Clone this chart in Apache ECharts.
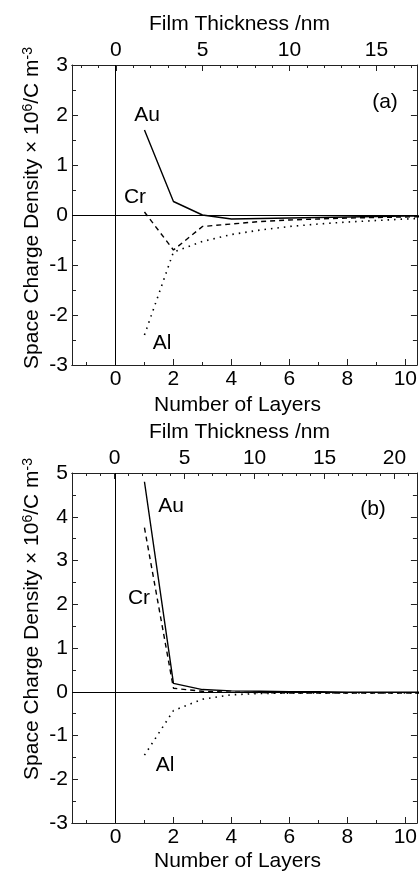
<!DOCTYPE html>
<html>
<head>
<meta charset="utf-8">
<script src="https://cdn.jsdelivr.net/npm/echarts@6/dist/echarts.min.js"></script>
<style>
html, body {margin: 0; padding: 0; background: #fff;}
#box {width: 420px; height: 873px;}
</style>
</head>
<body>
<div id="box"></div>
<script>
// 数据
var layers = [1, 2, 3, 4, 5, 6, 7, 8, 9, 10, 11];
// (a)
var auA = [1.7, 0.27, 0.0, -0.08, -0.07, -0.06, -0.05, -0.04, -0.03, -0.02, -0.02];
var crA = [0.06, -0.7, -0.23, -0.18, -0.13, -0.1, -0.08, -0.06, -0.05, -0.04, -0.03];
var alA = [-2.4, -0.74, -0.53, -0.39, -0.3, -0.23, -0.18, -0.14, -0.11, -0.08, -0.06];
// (b)
var auB = [4.8, 0.19, 0.05, 0.02, 0.01, 0.0, 0.0, -0.01, -0.01, -0.01, -0.01];
var crB = [3.75, 0.08, 0.01, -0.01, -0.02, -0.03, -0.03, -0.03, -0.03, -0.03, -0.03];
var alB = [-1.45, -0.43, -0.17, -0.07, -0.04, -0.03, -0.03, -0.03, -0.03, -0.03, -0.03];

// 刻度
var layerTicks = [0, 2, 4, 6, 8, 10];
var layerMinor = [-1, 1, 3, 5, 7, 9];
var nmTicksA = [0, 5, 10, 15];
var nmMinorA = [-2, -1, 1, 2, 3, 4, 6, 7, 8, 9, 11, 12, 13, 14, 16, 17];
var nmTicksB = [0, 5, 10, 15, 20];
var nmMinorB = [-3, -2, -1, 1, 2, 3, 4, 6, 7, 8, 9, 11, 12, 13, 14, 16, 17, 18, 19, 21];

var FONT = 'Liberation Sans';
var FS = 21;
var axisColor = '#222';

function pairs(xs, ys) {
    return xs.map(function (x, i) { return [x, ys[i]]; });
}

// 一个x轴 (主刻度+标签 或 次刻度)
function xAx(grid, pos, min, max, ticks, labels, len, name, nameGap, pad) {
    return {
        type: 'value', gridIndex: grid, position: pos, min: min, max: max,
        axisLine: {show: true, onZero: false, lineStyle: {color: axisColor, width: 1}},
        axisTick: {show: true, inside: true, length: len, customValues: ticks,
            lineStyle: {color: axisColor}},
        axisLabel: {show: !!labels, customValues: labels || [], margin: 4,
            fontFamily: FONT, fontSize: FS, color: '#000'},
        splitLine: {show: false},
        name: name || '', nameLocation: 'middle', nameGap: nameGap || 0,
        nameTextStyle: {fontFamily: FONT, fontSize: FS, color: '#000', padding: pad || 0}
    };
}

function yAx(grid, pos, min, max, withLabel, pad) {
    return {
        type: 'value', gridIndex: grid, position: pos, min: min, max: max, interval: 1,
        axisLine: {show: true, onZero: false, lineStyle: {color: axisColor, width: 1}},
        axisTick: {show: true, inside: true, length: 6, lineStyle: {color: axisColor}},
        minorTick: {show: true, splitNumber: 2, length: 4, lineStyle: {color: axisColor}},
        axisLabel: {show: withLabel, margin: 4, fontFamily: FONT, fontSize: FS, color: '#000'},
        splitLine: {show: false},
        name: withLabel ? 'Space Charge Density \u00d7 10{sup|6}/C m{sup|-3}' : '',
        nameLocation: 'middle', nameRotate: 90, nameGap: 29, nameMoveOverlap: false,
        nameTextStyle: {
            fontFamily: FONT, fontSize: FS, color: '#000', lineHeight: 22, padding: pad || 0,
            rich: {sup: {fontFamily: FONT, fontSize: 14, verticalAlign: 'top', lineHeight: 14, color: '#000'}}
        }
    };
}

function lines(xi, yi, au, cr, al) {
    return [{
        type: 'line', xAxisIndex: xi, yAxisIndex: yi, data: pairs(layers, au),
        symbol: 'none', lineStyle: {color: '#000', width: 1.4, type: 'solid'},
        markLine: {
            silent: true, symbol: 'none', label: {show: false},
            lineStyle: {color: '#000', width: 1, type: 'solid'},
            data: [{xAxis: 0}, {yAxis: 0}]
        }
    }, {
        type: 'line', xAxisIndex: xi, yAxisIndex: yi, data: pairs(layers, cr),
        symbol: 'none', lineStyle: {color: '#000', width: 1.4, type: [5, 4]}
    }, {
        type: 'line', xAxisIndex: xi, yAxisIndex: yi, data: pairs(layers, al),
        symbol: 'none', lineStyle: {color: '#000', width: 1.6, type: [1.5, 5]}
    }];
}

function txt(s, x, y) {
    return {type: 'text', x: x, y: y, style: {text: s, fontFamily: FONT, fontSize: FS, fill: '#000',
        align: 'center', verticalAlign: 'middle'}};
}

var myChart = echarts.init(document.getElementById('box'));

var option = {
    animation: false,
    backgroundColor: '#fff',
    grid: [
        {left: 72, top: 65, width: 347, height: 300},
        {left: 72, top: 473, width: 347, height: 354}
    ],
    xAxis: [
        xAx(0, 'bottom', -1.5, 10.4, layerTicks, layerTicks, 6, 'Number of Layers', 30, [0, 14, 0, 0]),
        xAx(0, 'bottom', -1.5, 10.4, layerMinor, null, 3),
        xAx(0, 'top', -2.52, 17.33, nmTicksA, nmTicksA, 6, 'Film Thickness /nm', 30, [0, 10, 0, 0]),
        xAx(0, 'top', -2.52, 17.33, nmMinorA, null, 3),
        xAx(1, 'bottom', -1.5, 10.4, layerTicks, layerTicks, 6, 'Number of Layers', 28, [0, 14, 0, 0]),
        xAx(1, 'bottom', -1.5, 10.4, layerMinor, null, 3),
        xAx(1, 'top', -3.05, 21.6, nmTicksB, nmTicksB, 6, 'Film Thickness /nm', 30, [0, 10, 0, 0]),
        xAx(1, 'top', -3.05, 21.6, nmMinorB, null, 3)
    ],
    yAxis: [
        yAx(0, 'left', -3, 3, true, [0, 0, 0, 14]),
        yAx(0, 'right', -3, 3, false),
        yAx(1, 'left', -3, 5, true, [0, 0, 0, 58]),
        yAx(1, 'right', -3, 5, false)
    ],
    series: [].concat(
        lines(0, 0, auA, crA, alA),
        lines(4, 2, auB, crB, alB)
    ),
    graphic: [
        txt('Au', 147, 115), txt('Cr', 135, 197), txt('Al', 162, 343), txt('(a)', 385, 102),
        txt('Au', 171, 506), txt('(b)', 373, 509), txt('Cr', 139, 598), txt('Al', 165, 765)
    ]
};

myChart.setOption(option);
</script>
</body>
</html>
